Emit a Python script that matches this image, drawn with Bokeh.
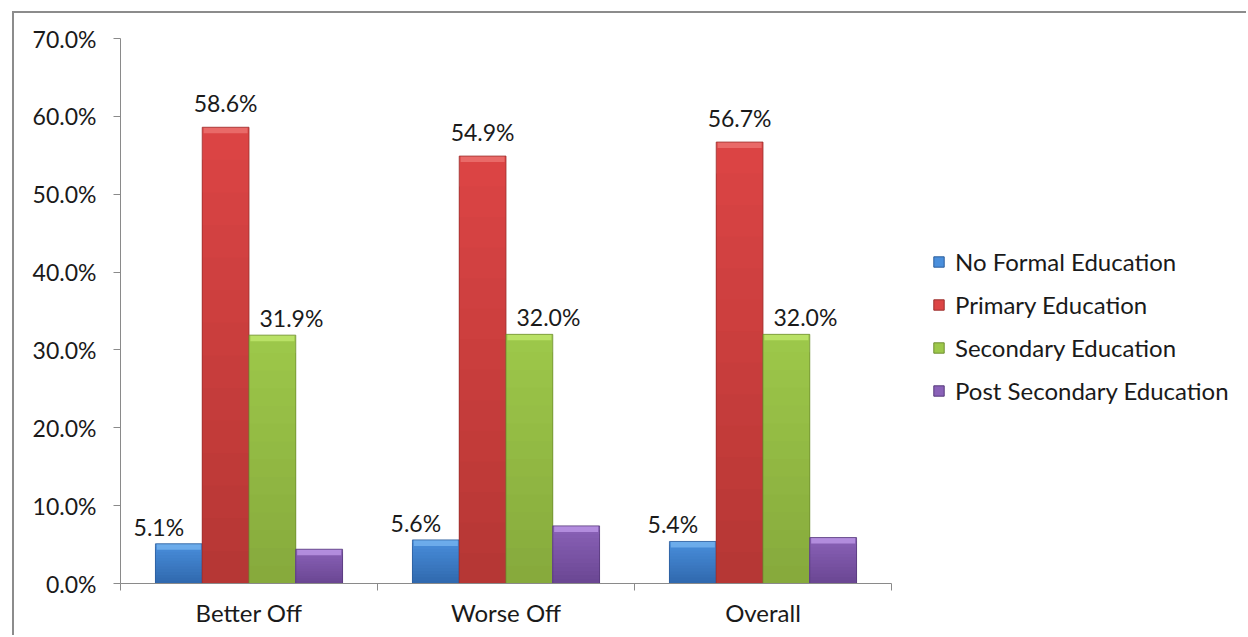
from bokeh.plotting import figure
from bokeh.models import (Range1d, FixedTicker, PrintfTickFormatter, Legend,
                          LegendItem, ColumnDataSource)
from bokeh.embed import file_html
from bokeh.resources import INLINE
from bokeh.core.properties import value

# --- data -------------------------------------------------------------
groups = ["Better Off", "Worse Off", "Overall"]
series = ["No Formal Education", "Primary Education",
          "Secondary Education", "Post Secondary Education"]
no_formal = [5.1, 5.6, 5.4]
primary = [58.6, 54.9, 56.7]
secondary = [31.9, 32.0, 32.0]
post_secondary = [4.4, 7.4, 5.9]
y_ticks = [0, 10, 20, 30, 40, 50, 60, 70]

values = [no_formal, primary, secondary, post_secondary]
labelled = [True, True, True, False]

# (top colour, bottom colour, bevel highlight, edge)
palettes = [
    ("#4a8fdc", "#2f68ad", "#7cb9f2", "#2a5d9c"),
    ("#dc4545", "#b53634", "#f07a78", "#9c2f2d"),
    ("#9dc84a", "#86a93c", "#c6ec72", "#6f8e31"),
    ("#8a62b8", "#6a4692", "#c5a0ee", "#56397a"),
]
label_dx = [-20, 0, 19, 0]
label_dy = [-17, -24, -17, 0]

FONT = "Lato"
NUM_SIZE = "23px"
WORD_SIZE = "24px"
TEXT = "#1a1a1a"
AXIS = "#8a8a8a"

# canvas geometry (pixels)
W, H = 1234, 624
LEFT, TOP, BOTTOM = 106, 25, 54
AXIS_LEN = 771            # length of the category axis
frame_w = W - LEFT        # frame reaches the right edge; legend sits in it

bar_w = 0.182
offsets = [-1.5 * bar_w, -0.5 * bar_w, 0.5 * bar_w, 1.5 * bar_w]
centers = [i + 0.5 for i in range(len(groups))]
n = len(groups)

p = figure(width=W, height=H, output_backend="svg", toolbar_location=None,
           x_range=Range1d(0, n * frame_w / AXIS_LEN), y_range=Range1d(0, 70),
           min_border_left=LEFT, min_border_right=0,
           min_border_top=TOP, min_border_bottom=BOTTOM)
p.margin = (11, 0, 0, 12)
p.styles = {"border-top": "2px solid #8c8c8c", "border-left": "2px solid #8c8c8c"}
p.outline_line_color = None
p.xgrid.visible = False
p.ygrid.visible = False
p.background_fill_color = "white"
p.border_fill_color = "white"


def mix(c1, c2, t):
    a = [int(c1[i:i + 2], 16) for i in (1, 3, 5)]
    b = [int(c2[i:i + 2], 16) for i in (1, 3, 5)]
    return "#%02x%02x%02x" % tuple(round(a[k] + (b[k] - a[k]) * t) for k in range(3))


px_per_unit = (H - TOP - BOTTOM) / 70.0
bands = 14
legend_items = []
for s, (name, vals, (c_top, c_bot, c_hi, c_edge)) in enumerate(zip(series, values, palettes)):
    xs = [c + offsets[s] for c in centers]
    # body shading: nested bars, each shorter one darker, so no seams appear
    for k in range(bands, 0, -1):
        src = ColumnDataSource(dict(x=xs, top=[v * k / bands for v in vals]))
        p.vbar(x="x", bottom=0, top="top", width=bar_w, source=src,
               fill_color=mix(c_bot, c_top, (k - 0.5) / bands), line_color=None)
    # bevelled top edge
    bev = 6 / px_per_unit
    src = ColumnDataSource(dict(x=xs, bottom=[v - bev for v in vals], top=vals))
    p.vbar(x="x", bottom="bottom", top="top", width=bar_w * 0.94, source=src,
           fill_color=c_hi, fill_alpha=0.7, line_color=None)
    # outline of the whole bar
    src = ColumnDataSource(dict(x=xs, top=vals))
    p.vbar(x="x", top="top", bottom=0, width=bar_w, source=src,
           fill_alpha=0.0, line_color=c_edge, line_width=1, line_alpha=0.8)
    sw = p.rect(x=[-10], y=[-10], width=1, height=1, fill_color=c_top,
                line_color=c_edge)
    legend_items.append(LegendItem(label=name, renderers=[sw]))
    if labelled[s]:
        lsrc = ColumnDataSource(dict(x=xs, y=vals,
                                     t=["%.1f%%" % v for v in vals]))
        p.text(x="x", y="y", text="t", source=lsrc, x_offset=label_dx[s],
               y_offset=label_dy[s], text_align="center", text_baseline="middle",
               text_font=value(FONT), text_font_size=NUM_SIZE, text_color=TEXT)

# y axis
p.yaxis.ticker = FixedTicker(ticks=y_ticks)
p.yaxis.formatter = PrintfTickFormatter(format="%.1f%%")
p.yaxis.axis_line_color = AXIS
p.yaxis.major_tick_line_color = AXIS
p.yaxis.major_tick_out = 7
p.yaxis.major_tick_in = 0
p.yaxis.minor_tick_line_color = None
p.yaxis.major_label_standoff = 17
p.yaxis.major_label_text_font = FONT
p.yaxis.major_label_text_font_size = NUM_SIZE
p.yaxis.major_label_text_color = TEXT

# x axis: labels at group centres, tick marks at group boundaries
p.xaxis.bounds = (0, n)
p.xaxis.ticker = FixedTicker(ticks=centers, minor_ticks=list(range(n + 1)))
p.xaxis.major_label_overrides = {c: g for c, g in zip(centers, groups)}
p.xaxis.axis_line_color = AXIS
p.xaxis.major_tick_line_color = None
p.xaxis.major_tick_out = 0
p.xaxis.major_tick_in = 0
p.xaxis.minor_tick_line_color = AXIS
p.xaxis.minor_tick_out = 7
p.xaxis.minor_tick_in = 0
p.xaxis.major_label_standoff = 7
p.xaxis.major_label_text_font = FONT
p.xaxis.major_label_text_font_size = WORD_SIZE
p.xaxis.major_label_text_color = TEXT

legend = Legend(items=legend_items, location=(812, 171),
                glyph_width=13, glyph_height=13, label_height=43, spacing=0,
                label_standoff=10, padding=10, border_line_color=None,
                background_fill_alpha=0.0, label_text_font=FONT,
                label_text_font_size=WORD_SIZE, label_text_color=TEXT)
p.add_layout(legend, "center")

open("out.html", "w").write(file_html(p, INLINE))
